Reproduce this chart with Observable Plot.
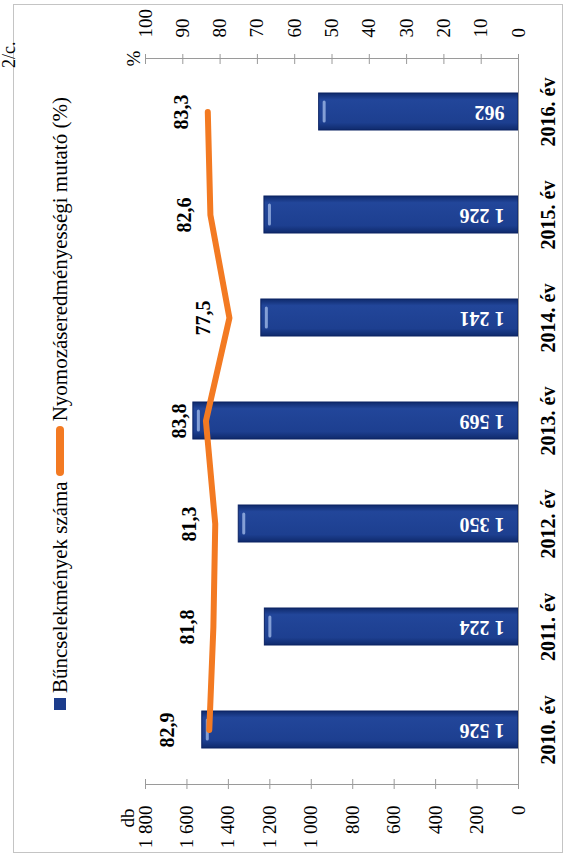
<!DOCTYPE html>
<html>
<head>
<meta charset="utf-8">
<script src="https://cdn.jsdelivr.net/npm/d3@7"></script>
<script src="https://cdn.jsdelivr.net/npm/@observablehq/plot@0.6"></script>
<style>
  html, body { margin: 0; padding: 0; background: #fff; }
  #page { position: relative; width: 573px; height: 862px; overflow: hidden;
          font-family: "Liberation Serif", "Times New Roman", serif; color: #000; }
  #border { position: absolute; left: 13px; top: 4px; width: 550px; height: 849px;
            border: 1px solid #c4c4c4; box-sizing: border-box; }
  #chart { position: absolute; left: 0; top: 0; }
  .rot { position: absolute; transform-origin: 0 0; transform: rotate(-90deg); white-space: nowrap;
         font-family: "Liberation Serif", "Times New Roman", serif; }
  #legend { left: 48px; top: 710px; height: 24px; line-height: 24px; font-size: 21px;
            display: flex; align-items: center; }
  .sq { display: inline-block; width: 12px; height: 12px; margin-right: 5px; }
  .ln { display: inline-block; width: 50px; height: 8px; border-radius: 4px; margin: 0 5px 0 5px; }
  #tag { left: -1px; top: 68px; height: 20px; line-height: 20px; font-size: 18px; }
</style>
</head>
<body>
<div id="page">
  <div id="border"></div>
  <div id="chart"></div>
  <div id="legend" class="rot"></div>
  <div id="tag" class="rot">2/c.</div>
</div>
<script>
// ---- data ----
const years = ["2010. év", "2011. év", "2012. év", "2013. év", "2014. év", "2015. év", "2016. év"];
const counts = [1526, 1224, 1350, 1569, 1241, 1226, 962];
const rates = [82.9, 81.8, 81.3, 83.8, 77.5, 82.6, 83.3];
const countTicks = [0, 200, 400, 600, 800, 1000, 1200, 1400, 1600, 1800];
const rateTicks = [0, 10, 20, 30, 40, 50, 60, 70, 80, 90, 100];
const seriesNames = ["Bűncselekmények száma", "Nyomozáseredményességi mutató (%)"];
const countUnit = "db";
const rateUnit = "%";

// ---- helpers ----
const COUNT_MAX = countTicks[countTicks.length - 1];
const RATE_MAX = rateTicks[rateTicks.length - 1];
const k = COUNT_MAX / RATE_MAX; // secondary (%) axis mapped onto the count scale
const rows = years.map((year, i) => ({year, count: counts[i], rate: rates[i]}));
const thousands = n => String(n).replace(/\B(?=(\d{3})+(?!\d))/g, " ");
const decimal = v => v.toFixed(1).replace(".", ",");
const blank = () => "";

const BLUE = "#1c3c8c", BLUE_EDGE = "#0b2263", ORANGE = "#f37a22", AXIS = "#9a9a9a";
const SERIF = "'Liberation Serif', 'Times New Roman', serif";

const chart = Plot.plot({
  width: 573,
  height: 862,
  marginLeft: 145,
  marginRight: 55,
  marginTop: 58,
  marginBottom: 78,
  style: {fontFamily: SERIF, fontSize: "19px", background: "transparent", color: "#000", overflow: "visible"},
  x: {domain: [0, COUNT_MAX], reverse: true},
  y: {type: "band", domain: years.slice().reverse(), paddingInner: 0.64, paddingOuter: 0.32, axis: null},
  marks: [
    Plot.frame({anchor: "top", stroke: AXIS}),
    Plot.frame({anchor: "bottom", stroke: AXIS}),
    Plot.barX(rows, {x: "count", y: "year", fill: BLUE, stroke: BLUE_EDGE, strokeWidth: 1}),
    Plot.tickX(rows, {x: "count", y: "year", dx: 5, stroke: "#9db6e6", strokeWidth: 3, strokeLinecap: "round",
                      insetTop: 9, insetBottom: 9, strokeOpacity: 0.8}),
    Plot.ruleX([0], {stroke: AXIS}),
    Plot.axisX({anchor: "bottom", ticks: countTicks, tickFormat: blank, tickSize: 10, dy: -5, stroke: AXIS, label: null}),
    Plot.axisX({anchor: "bottom", ticks: countTicks, tickFormat: thousands, tickSize: 0, tickPadding: 21,
                tickRotate: -90, label: null, fontSize: 19}),
    Plot.axisX({anchor: "top", ticks: rateTicks.map(r => r * k), tickFormat: blank, tickSize: 10, dy: 5, stroke: AXIS, label: null}),
    Plot.axisX({anchor: "top", ticks: rateTicks.map(r => r * k), tickFormat: d => String(Math.round(d / k)),
                tickSize: 0, tickPadding: 21, tickRotate: -90, label: null, fontSize: 19}),
    Plot.line(rows, {x: d => d.rate * k, y: "year", stroke: ORANGE, strokeWidth: 6,
                     strokeLinejoin: "round", strokeLinecap: "round"}),
    Plot.text(rows, {x: 0, y: "year", text: d => thousands(d.count), rotate: 180, textAnchor: "start",
                     lineAnchor: "middle", dx: -14, fill: "white", fontWeight: "bold", fontSize: 20}),
    Plot.text(rows, {filter: (d, i) => i > 0, x: d => d.rate * k, y: "year", text: d => decimal(d.rate),
                     rotate: -90, textAnchor: "middle", lineAnchor: "middle", dx: -26, fontWeight: "bold", fontSize: 20}),
    Plot.text(rows, {filter: (d, i) => i === 0, x: d => d.rate * k, y: "year", text: d => decimal(d.rate),
                     rotate: -90, textAnchor: "middle", lineAnchor: "middle", dx: -42, fontWeight: "bold", fontSize: 20}),
    Plot.text(rows, {y: "year", text: "year", frameAnchor: "right", dx: 30, rotate: -90, textAnchor: "middle",
                     lineAnchor: "middle", fontWeight: "bold", fontSize: 20}),
    Plot.text([countUnit], {frameAnchor: "bottom-left", dx: -18, dy: 24, rotate: -90, textAnchor: "end",
                            lineAnchor: "middle", fontSize: 19}),
    Plot.text([rateUnit], {frameAnchor: "top-left", dx: -12, rotate: -90, textAnchor: "middle",
                           lineAnchor: "middle", fontSize: 19})
  ]
});
document.getElementById("chart").appendChild(chart);

// bevel-like shading of the bars
const ns = "http://www.w3.org/2000/svg";
const defs = document.createElementNS(ns, "defs");
defs.innerHTML = `<linearGradient id="barGrad" x1="0" y1="0" x2="0" y2="1">
  <stop offset="0" stop-color="#0f2a6c"/><stop offset="0.18" stop-color="#22469a"/>
  <stop offset="0.8" stop-color="#1d3f90"/><stop offset="1" stop-color="#0f2a6c"/></linearGradient>`;
chart.insertBefore(defs, chart.firstChild);
chart.querySelectorAll('g[aria-label="bar"] rect').forEach(r => r.setAttribute("fill", "url(#barGrad)"));

// legend (rotated like the rest of the figure)
const legend = document.getElementById("legend");
const sw1 = document.createElement("span"); sw1.className = "sq"; sw1.style.background = BLUE;
const t1 = document.createElement("span"); t1.textContent = seriesNames[0];
const sw2 = document.createElement("span"); sw2.className = "ln"; sw2.style.background = ORANGE;
const t2 = document.createElement("span"); t2.textContent = seriesNames[1];
legend.append(sw1, t1, sw2, t2);
</script>
</body>
</html>
